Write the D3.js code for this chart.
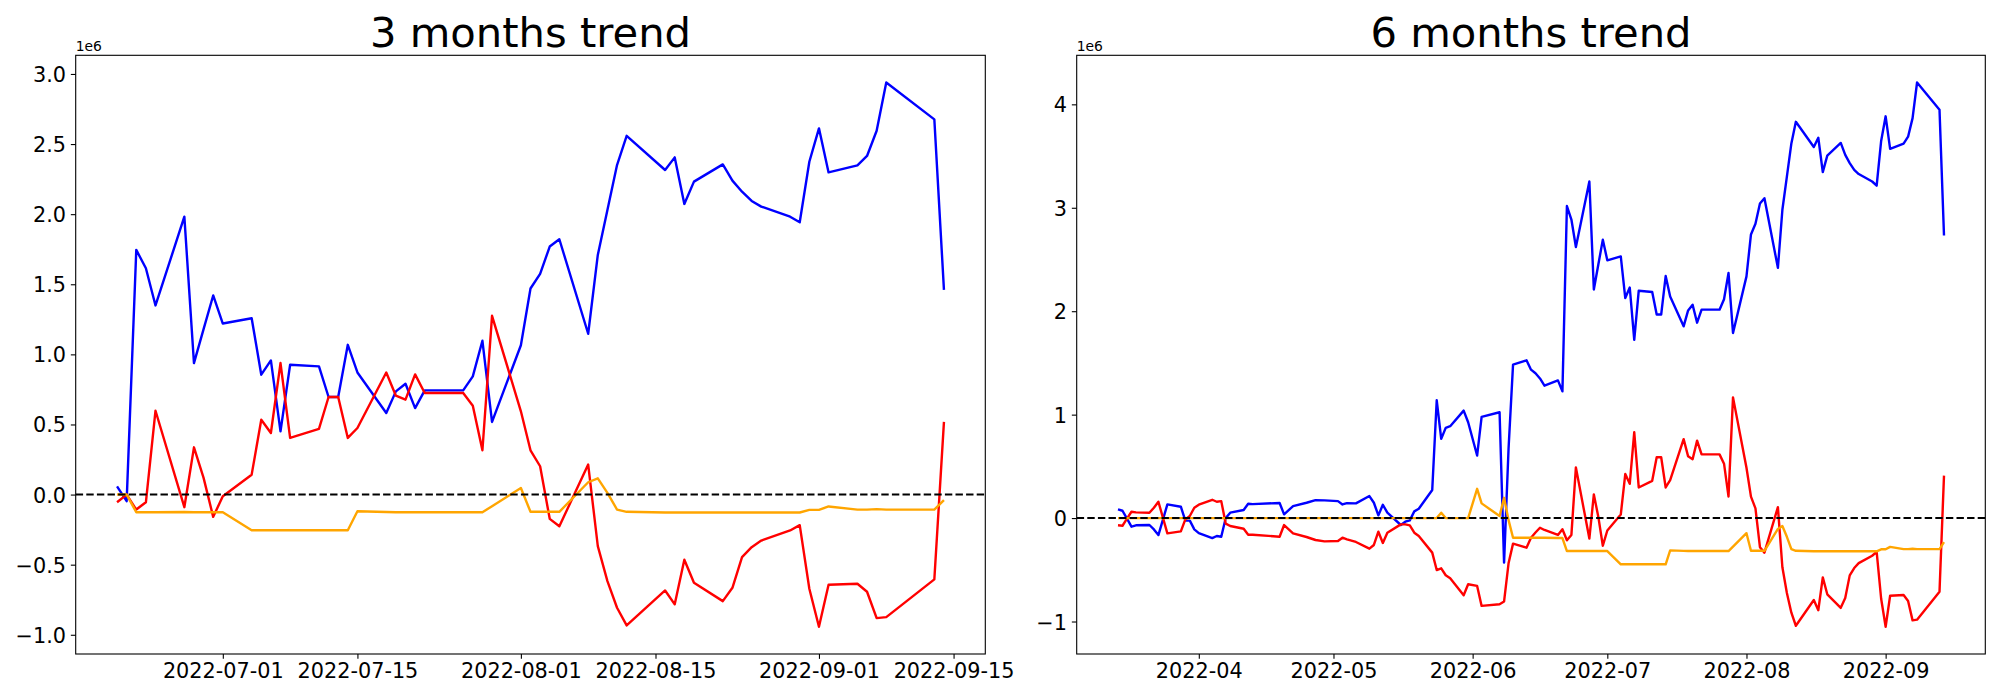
<!DOCTYPE html>
<html>
<head>
<meta charset="utf-8">
<script src="https://cdn.jsdelivr.net/npm/d3@7"></script>
<style>
  html, body { margin: 0; padding: 0; background: #ffffff; }
  svg { display: block; }
</style>
</head>
<body>
<svg id="chart" width="2000" height="700"></svg>
<script>
// ---------------- DATA (values in units of 1e6) ----------------
const leftTitle = "3 months trend";
const rightTitle = "6 months trend";

const leftDates = ["2022-06-20","2022-06-21","2022-06-22","2022-06-23","2022-06-24","2022-06-27","2022-06-28","2022-06-29","2022-06-30",
  "2022-07-01","2022-07-04","2022-07-05","2022-07-06","2022-07-07","2022-07-08","2022-07-11","2022-07-12","2022-07-13","2022-07-14","2022-07-15",
  "2022-07-18","2022-07-19","2022-07-20","2022-07-21","2022-07-22","2022-07-26","2022-07-27","2022-07-28","2022-07-29",
  "2022-08-01","2022-08-02","2022-08-03","2022-08-04","2022-08-05","2022-08-08","2022-08-09","2022-08-10","2022-08-11","2022-08-12",
  "2022-08-16","2022-08-17","2022-08-18","2022-08-19","2022-08-22","2022-08-23","2022-08-24","2022-08-25","2022-08-26","2022-08-29","2022-08-30","2022-08-31",
  "2022-09-01","2022-09-02","2022-09-05","2022-09-06","2022-09-07","2022-09-08","2022-09-13","2022-09-14"];

const leftBlue = [0.059,-0.047,1.745,1.614,1.349,1.982,0.938,1.18,1.42,
  1.22,1.258,0.855,0.957,0.451,0.926,0.914,0.696,0.696,1.068,0.871,
  0.582,0.736,0.79,0.617,0.743,0.743,0.843,1.097,0.518,
  1.065,1.47,1.574,1.769,1.821,1.147,1.709,2.03,2.35,2.559,2.315,2.405,2.073,2.232,2.355,2.239,2.16,2.094,2.054,1.982,1.942,2.374,
  2.612,2.298,2.348,2.415,2.595,2.939,2.676,1.46];

const leftRed = [-0.055,0.0,-0.107,-0.055,0.598,-0.09,0.337,0.119,-0.159,
  -0.012,0.142,0.534,0.439,0.938,0.404,0.468,0.696,0.696,0.404,0.475,
  0.871,0.705,0.677,0.857,0.724,0.724,0.634,0.316,1.275,
  0.594,0.316,0.202,-0.173,-0.226,0.214,-0.368,-0.617,-0.807,-0.933,-0.684,-0.783,-0.465,-0.629,-0.76,-0.665,-0.446,-0.375,-0.328,-0.256,-0.218,-0.672,
  -0.943,-0.643,-0.636,-0.693,-0.881,-0.874,-0.605,0.518];

const leftOrange = [0.0,0.0,-0.126,-0.126,-0.126,-0.124,-0.126,-0.126,-0.126,
  -0.126,-0.254,-0.254,-0.254,-0.254,-0.254,-0.254,-0.254,-0.254,-0.254,-0.119,
  -0.124,-0.126,-0.126,-0.126,-0.126,-0.126,-0.126,-0.126,-0.083,
  0.047,-0.123,-0.123,-0.123,-0.123,0.088,0.116,0.012,-0.107,-0.123,-0.128,-0.128,-0.128,-0.128,-0.128,-0.128,-0.128,-0.128,-0.128,-0.128,-0.128,-0.109,
  -0.109,-0.085,-0.107,-0.107,-0.104,-0.107,-0.107,-0.04];

const rightDates = ["2022-03-14","2022-03-15","2022-03-16","2022-03-17","2022-03-18","2022-03-21","2022-03-22","2022-03-23","2022-03-25","2022-03-28","2022-03-29","2022-03-30","2022-03-31",
  "2022-04-01","2022-04-04","2022-04-05","2022-04-06","2022-04-07","2022-04-08","2022-04-11","2022-04-12","2022-04-13","2022-04-19","2022-04-20","2022-04-22","2022-04-25","2022-04-27","2022-04-29",
  "2022-05-02","2022-05-03","2022-05-04","2022-05-06","2022-05-09","2022-05-10","2022-05-11","2022-05-12","2022-05-13","2022-05-16","2022-05-17","2022-05-18","2022-05-19","2022-05-20","2022-05-23","2022-05-24","2022-05-25","2022-05-26","2022-05-27","2022-05-30","2022-05-31",
  "2022-06-02","2022-06-03","2022-06-07","2022-06-08","2022-06-09","2022-06-10","2022-06-13","2022-06-14","2022-06-15","2022-06-16","2022-06-17",
  "2022-06-20","2022-06-21","2022-06-22","2022-06-23","2022-06-24","2022-06-27","2022-06-28","2022-06-29","2022-06-30",
  "2022-07-01","2022-07-04","2022-07-05","2022-07-06","2022-07-07","2022-07-08","2022-07-11","2022-07-12","2022-07-13","2022-07-14","2022-07-15",
  "2022-07-18","2022-07-19","2022-07-20","2022-07-21","2022-07-22","2022-07-26","2022-07-27","2022-07-28","2022-07-29",
  "2022-08-01","2022-08-02","2022-08-03","2022-08-04","2022-08-05","2022-08-08","2022-08-09","2022-08-10","2022-08-11","2022-08-12",
  "2022-08-16","2022-08-17","2022-08-18","2022-08-19","2022-08-22","2022-08-23","2022-08-24","2022-08-25","2022-08-26","2022-08-29","2022-08-30","2022-08-31",
  "2022-09-01","2022-09-02","2022-09-05","2022-09-06","2022-09-07","2022-09-08","2022-09-13","2022-09-14"];

const rightBlue = [0.084,0.071,-0.006,-0.083,-0.07,-0.067,-0.11,-0.164,0.132,0.11,-0.025,-0.025,-0.109,
  -0.145,-0.193,-0.173,-0.18,0.0,0.052,0.078,0.139,0.135,0.146,0.036,0.116,0.148,0.174,0.171,
  0.164,0.132,0.145,0.142,0.213,0.148,0.026,0.129,0.052,-0.067,-0.035,-0.022,0.065,0.09,0.271,1.139,0.766,0.872,0.888,1.039,0.926,
  0.605,0.978,1.023,-0.431,0.67,1.483,1.525,1.435,1.40,1.35,1.28,
  1.331,1.225,3.017,2.886,2.621,3.254,2.21,2.452,2.692,
  2.492,2.53,2.127,2.229,1.723,2.198,2.186,1.968,1.968,2.34,2.143,1.854,2.008,2.062,1.889,2.015,2.015,2.115,2.369,1.79,
  2.337,2.742,2.846,3.041,3.093,2.419,2.981,3.302,3.622,3.831,3.587,3.677,3.345,3.504,3.627,3.511,3.432,3.366,3.326,3.254,3.214,3.646,
  3.884,3.57,3.62,3.687,3.867,4.211,3.948,2.732];

const rightRed = [-0.07,-0.074,-0.006,0.061,0.055,0.052,0.10,0.158,-0.148,-0.128,-0.013,0.02,0.10,
  0.129,0.177,0.158,0.164,-0.054,-0.077,-0.103,-0.161,-0.161,-0.18,-0.067,-0.148,-0.183,-0.212,-0.225,
  -0.222,-0.19,-0.206,-0.231,-0.296,-0.26,-0.132,-0.241,-0.141,-0.061,-0.061,-0.07,-0.141,-0.173,-0.334,-0.502,-0.486,-0.553,-0.582,-0.746,-0.64,
  -0.656,-0.849,-0.833,-0.807,-0.437,-0.247,-0.286,-0.19,-0.14,-0.093,-0.115,
  -0.163,-0.108,-0.215,-0.163,0.49,-0.198,0.229,0.011,-0.267,
  -0.12,0.034,0.426,0.331,0.83,0.296,0.36,0.588,0.588,0.296,0.367,0.763,0.597,0.569,0.749,0.616,0.616,0.526,0.208,1.167,
  0.486,0.208,0.094,-0.281,-0.334,0.106,-0.476,-0.725,-0.915,-1.041,-0.792,-0.891,-0.573,-0.737,-0.868,-0.773,-0.554,-0.483,-0.436,-0.364,-0.326,-0.78,
  -1.051,-0.751,-0.744,-0.801,-0.989,-0.982,-0.713,0.41];

const rightOrange = [0,0,0,0,0,0,0,0,0,0,0,0,0,
  0,0,0,0,0,0,0,0,0,0,0,0,0,0,0,
  0,0,0,0,0,0,0,0,0,0,0,0,0,0,0,0,0.052,0,0,0,0,
  0.283,0.142,0.02,0.196,-0.02,-0.19,-0.19,-0.19,-0.19,-0.19,-0.19,
  -0.193,-0.193,-0.319,-0.319,-0.319,-0.317,-0.319,-0.319,-0.319,
  -0.319,-0.447,-0.447,-0.447,-0.447,-0.447,-0.447,-0.447,-0.447,-0.447,-0.312,-0.317,-0.319,-0.319,-0.319,-0.319,-0.319,-0.319,-0.319,-0.276,
  -0.146,-0.316,-0.316,-0.316,-0.316,-0.105,-0.077,-0.181,-0.3,-0.316,-0.321,-0.321,-0.321,-0.321,-0.321,-0.321,-0.321,-0.321,-0.321,-0.321,-0.321,-0.302,
  -0.302,-0.278,-0.3,-0.3,-0.297,-0.3,-0.3,-0.233];

const seriesColors = ["#0000ff", "#ff0000", "#ffa500"];

const leftXTicks = ["2022-07-01","2022-07-15","2022-08-01","2022-08-15","2022-09-01","2022-09-15"];
const rightXTicks = ["2022-04","2022-05","2022-06","2022-07","2022-08","2022-09"];
const leftYTicks = [-1.0,-0.5,0.0,0.5,1.0,1.5,2.0,2.5,3.0];
const rightYTicks = [-1,0,1,2,3,4];
const offsetLabel = "1e6";

// ---------------- DRAWING ----------------
const svg = d3.select("#chart");
svg.append("rect").attr("width", 2000).attr("height", 700).attr("fill", "#ffffff");
const FONT = "DejaVu Sans, Liberation Sans, sans-serif";
const parseDay = d3.utcParse("%Y-%m-%d");
const parseMonth = d3.utcParse("%Y-%m");

function drawPanel(cfg) {
  const {x0, x1, y0, y1} = cfg;
  const dates = cfg.dates.map(parseDay);
  const tMin = d3.min(dates).getTime(), tMax = d3.max(dates).getTime();
  const tPad = (tMax - tMin) * 0.05;
  const x = d3.scaleUtc().domain([new Date(tMin - tPad), new Date(tMax + tPad)]).range([x0, x1]);
  const allVals = cfg.series.flat();
  const vMin = d3.min(allVals), vMax = d3.max(allVals);
  const vPad = (vMax - vMin) * 0.05;
  const y = d3.scaleLinear().domain([vMin - vPad, vMax + vPad]).range([y1, y0]);

  const g = svg.append("g");

  // lines
  cfg.series.forEach((vals, i) => {
    const pts = dates.map((d, k) => [d, vals[k]]);
    g.append("path")
      .attr("d", d3.line().x(p => x(p[0])).y(p => y(p[1]))(pts))
      .attr("fill", "none")
      .attr("stroke", seriesColors[i])
      .attr("stroke-width", 2.4)
      .attr("stroke-linejoin", "round");
  });

  // zero dashed line
  g.append("line")
    .attr("x1", x0).attr("x2", x1)
    .attr("y1", y(0)).attr("y2", y(0))
    .attr("stroke", "#000").attr("stroke-width", 2)
    .attr("stroke-dasharray", "7.4,3.2");

  // axes
  const xAxis = d3.axisBottom(x).tickValues(cfg.xTicks).tickFormat(cfg.xFormat)
    .tickSizeOuter(0).tickSize(4.86).tickPadding(4.86);
  const gx = g.append("g").attr("transform", `translate(0,${y1})`).call(xAxis);
  gx.select(".domain").remove();
  gx.selectAll("line").attr("stroke", "#000").attr("stroke-width", 1.1);
  gx.selectAll("text").attr("font-family", FONT).attr("font-size", "20.8px").attr("fill", "#000");

  const yAxis = d3.axisLeft(y).tickValues(cfg.yTicks).tickFormat(cfg.yFormat)
    .tickSizeOuter(0).tickSize(4.86).tickPadding(4.86);
  const gy = g.append("g").attr("transform", `translate(${x0},0)`).call(yAxis);
  gy.select(".domain").remove();
  gy.selectAll("line").attr("stroke", "#000").attr("stroke-width", 1.1);
  gy.selectAll("text").attr("font-family", FONT).attr("font-size", "20.8px").attr("fill", "#000").attr("dy", "0.36em");

  // frame
  g.append("rect").attr("x", x0).attr("y", y0).attr("width", x1 - x0).attr("height", y1 - y0)
    .attr("fill", "none").attr("stroke", "#000").attr("stroke-width", 1.1);

  // offset label
  g.append("text").attr("x", x0).attr("y", y0 - 4)
    .attr("font-family", FONT).attr("font-size", "13.9px").attr("fill", "#000")
    .text(offsetLabel);

  // title
  g.append("text").attr("x", (x0 + x1) / 2).attr("y", y0 - 8.5)
    .attr("text-anchor", "middle")
    .attr("font-family", FONT).attr("font-size", "41.7px").attr("fill", "#000")
    .text(cfg.title);
}

drawPanel({
  x0: 75.7, x1: 985.3, y0: 55.3, y1: 654,
  dates: leftDates,
  series: [leftBlue, leftRed, leftOrange],
  xTicks: leftXTicks.map(parseDay),
  xFormat: d3.utcFormat("%Y-%m-%d"),
  yTicks: leftYTicks,
  yFormat: d3.format(".1f"),
  title: leftTitle
});

drawPanel({
  x0: 1076.7, x1: 1985.3, y0: 55.3, y1: 654,
  dates: rightDates,
  series: [rightBlue, rightRed, rightOrange],
  xTicks: rightXTicks.map(parseMonth),
  xFormat: d3.utcFormat("%Y-%m"),
  yTicks: rightYTicks,
  yFormat: d3.format("d"),
  title: rightTitle
});
</script>
</body>
</html>
